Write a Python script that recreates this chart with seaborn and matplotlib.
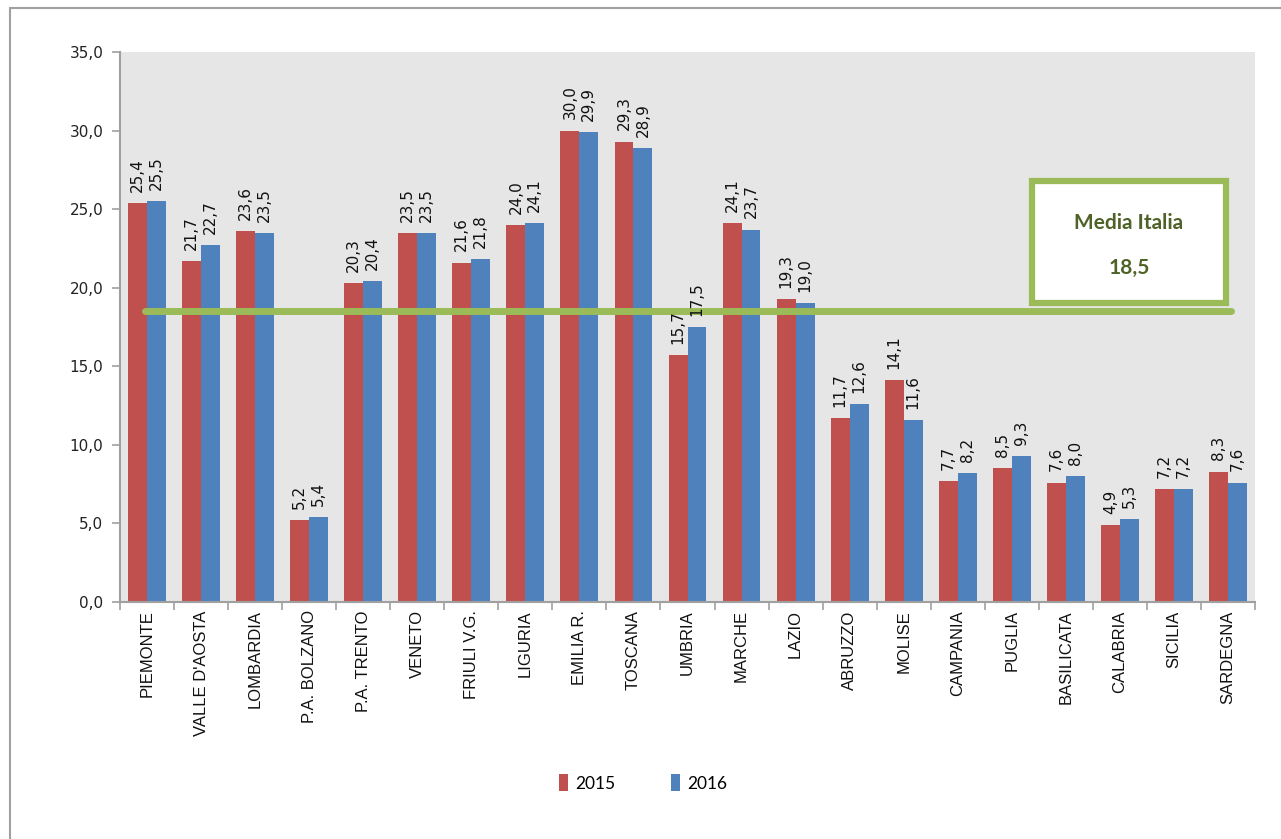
import numpy as np
import pandas as pd
import matplotlib
matplotlib.use("Agg")
import matplotlib.pyplot as plt
from matplotlib.patches import Rectangle
import seaborn as sns

# Dati
regioni = ["PIEMONTE", "VALLE D'AOSTA", "LOMBARDIA", "P.A. BOLZANO", "P.A. TRENTO",
           "VENETO", "FRIULI V.G.", "LIGURIA", "EMILIA R.", "TOSCANA", "UMBRIA",
           "MARCHE", "LAZIO", "ABRUZZO", "MOLISE", "CAMPANIA", "PUGLIA",
           "BASILICATA", "CALABRIA", "SICILIA", "SARDEGNA"]
val_2015 = [25.4, 21.7, 23.6, 5.2, 20.3, 23.5, 21.6, 24.0, 30.0, 29.3, 15.7,
            24.1, 19.3, 11.7, 14.1, 7.7, 8.5, 7.6, 4.9, 7.2, 8.3]
val_2016 = [25.5, 22.7, 23.5, 5.4, 20.4, 23.5, 21.8, 24.1, 29.9, 28.9, 17.5,
            23.7, 19.0, 12.6, 11.6, 8.2, 9.3, 8.0, 5.3, 7.2, 7.6]
anni = ["2015", "2016"]
media_italia = 18.5
y_ticks = [0, 5, 10, 15, 20, 25, 30, 35]

df = pd.DataFrame({
    "regione": regioni * 2,
    "valore": val_2015 + val_2016,
    "anno": [anni[0]] * len(regioni) + [anni[1]] * len(regioni),
})

def virgola(v):
    return f"{v:.1f}".replace(".", ",")

fig = plt.figure(figsize=(12.81, 8.39), dpi=100)
ax = fig.add_axes([120 / 1281, 1 - 602 / 839, 1135 / 1281, 550 / 839])
ax.set_facecolor("#E6E6E6")

sns.barplot(data=df, x="regione", y="valore", hue="anno", ax=ax,
            palette=["#C0504D", "#4F81BD"], width=0.7, saturation=1,
            linewidth=0, errorbar=None)

for cont in ax.containers:
    ax.bar_label(cont, labels=[virgola(b.get_height()) for b in cont],
                 rotation=90, padding=8, fontsize=11, color="#111111",
                 family="DejaVu Sans", zorder=8)

# linea media Italia
ax.plot([-0.04, 20.05], [media_italia, media_italia], color="#9BBB59", lw=5,
        solid_capstyle="round", zorder=5)

# riquadro
ax.add_patch(Rectangle((0.8035, 0.5436), 0.171, 0.222, transform=ax.transAxes,
                       facecolor="white", edgecolor="#9BBB59", lw=4.5, zorder=6))
ax.text(0.889, 0.689, "Media Italia", transform=ax.transAxes, ha="center",
        va="center", fontsize=15, fontweight="bold", color="#4F6228",
        family="Lato", zorder=7)
ax.text(0.889, 0.607, virgola(media_italia), transform=ax.transAxes, ha="center",
        va="center", fontsize=15, fontweight="bold", color="#4F6228",
        family="Lato", zorder=7)

ax.set_ylim(0, 35)
ax.set_yticks(y_ticks)
ax.set_yticklabels([virgola(v) for v in y_ticks], fontsize=11, color="#222222",
                   family="DejaVu Sans")
ax.set_xlim(-0.5, len(regioni) - 0.5)
ax.set_xticks(range(len(regioni)))
ax.set_xticklabels(regioni, rotation=90, fontsize=12, family="Liberation Sans",
                   color="#111111")
ax.set_xticks(np.arange(-0.5, len(regioni)), minor=True)
ax.tick_params(axis="x", which="major", length=0, pad=6)
ax.tick_params(axis="x", which="minor", length=6, color="#A0A0A0", width=1.2)
ax.tick_params(axis="y", length=6, color="#A0A0A0", width=1.2, pad=6)
ax.set_xlabel("")
ax.set_ylabel("")
for s in ["top", "right"]:
    ax.spines[s].set_visible(False)
for s in ["left", "bottom"]:
    ax.spines[s].set_color("#A0A0A0")
    ax.spines[s].set_linewidth(1.5)

handles, labels = ax.get_legend_handles_labels()
ax.legend_.remove()
fig.legend(handles, labels, loc="center", bbox_to_anchor=(643 / 1281, 1 - 783 / 839),
           ncol=2, frameon=False, handlelength=0.55, handleheight=1.1,
           columnspacing=3.2, handletextpad=0.4,
           prop={"family": "Lato", "size": 12.5})

# cornice esterna
fig.patches.append(Rectangle((10 / 1281, -0.1), 1.2, 1 - 8 / 839 + 0.1,
                             transform=fig.transFigure, facecolor="none",
                             edgecolor="#A0A0A0", lw=1.5))

fig.savefig("out.png", dpi=100)
